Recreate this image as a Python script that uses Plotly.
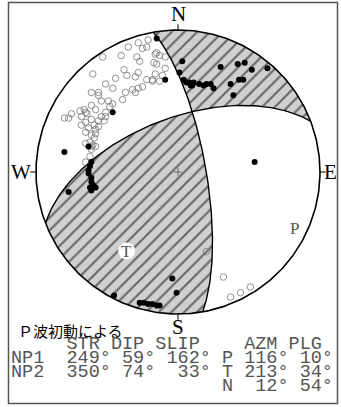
import numpy as np
import plotly.graph_objects as go

# nodal planes (P-wave first motion solution)
plane_names = ["NP1", "NP2"]
strikes = [249, 350]
dips = [59, 74]
slips = [162, 33]

# principal axes
axis_names = ["P", "T", "N"]
axis_azm = [116, 213, 12]
axis_plg = [10, 34, 54]

# first motions, lower hemisphere equal-area coords (east, north; radius 1)
dil_x = [-0.21, -0.28, -0.25, -0.22, -0.35, -0.15, -0.13, -0.16, -0.53, -0.40,
         -0.29, -0.27, -0.15, -0.17, -0.09, -0.60, -0.38, -0.36, -0.28, -0.30,
         -0.44, -0.18, -0.22, -0.16, -0.11, -0.13, -0.18, -0.51, -0.46, -0.56,
         -0.56, -0.61, -0.37, -0.32, -0.28, -0.25, -0.30, -0.39, -0.54, -0.49,
         -0.48, -0.46, -0.61, -0.66, -0.69, -0.58, -0.64, -0.51, -0.80, -0.77,
         -0.75, -0.68, -0.65, -0.54, -0.56, -0.52, -0.61, -0.68, -0.63, -0.65,
         -0.58, -0.56, -0.61, -0.58, -0.59, -0.65, -0.62, -0.60, -0.58, -0.61,
         -0.62, -0.65, -0.09, -0.65, -0.59, -0.51, -0.61,
         0.20, 0.32, 0.37, 0.44, 0.51]
dil_y = [0.93, 0.91, 0.87, 0.88, 0.88, 0.84, 0.82, 0.83, 0.81, 0.82,
         0.81, 0.78, 0.76, 0.77, 0.73, 0.69, 0.72, 0.68, 0.70, 0.67,
         0.66, 0.65, 0.65, 0.69, 0.68, 0.64, 0.64, 0.62, 0.59, 0.56,
         0.54, 0.56, 0.56, 0.58, 0.59, 0.60, 0.56, 0.51, 0.50, 0.50,
         0.46, 0.48, 0.47, 0.44, 0.43, 0.44, 0.41, 0.42, 0.38, 0.38,
         0.41, 0.39, 0.42, 0.39, 0.36, 0.36, 0.37, 0.33, 0.31, 0.28,
         0.30, 0.32, 0.26, 0.27, 0.24, 0.20, 0.21, 0.19, 0.18, 0.16,
         0.11, 0.07, 0.81, 0.35, 0.33, 0.39, 0.18,
         -0.56, -0.74, -0.88, -0.85, -0.81]

comp_x = [-0.15, -0.09, -0.46, -0.63, -0.80, -0.77,
          -0.61, -0.62, -0.63, -0.63, -0.61, -0.61, -0.60, -0.62, -0.58, -0.61,
          0.03, 0.01, 0.04, 0.06, 0.08, 0.10, 0.11, 0.09, 0.15, 0.18, 0.20,
          0.23, 0.25, 0.30, 0.37, 0.39, 0.42, 0.47, 0.43, 0.46, 0.52, 0.63,
          0.54,
          -0.04, -0.01, -0.45, -0.27, -0.24, -0.21, -0.18, -0.15, -0.13]
comp_y = [0.94, 0.65, 0.42, 0.18, 0.14, -0.14,
          0.07, 0.04, 0.01, -0.01, -0.04, -0.07, -0.09, -0.11, -0.11, -0.13,
          0.78, 0.70, 0.65, 0.63, 0.63, 0.61, 0.63, 0.61, 0.62, 0.61, 0.62,
          0.62, 0.59, 0.74, 0.62, 0.54, 0.76, 0.77, 0.65, 0.65, 0.72, 0.73,
          0.07,
          -0.75, -0.85, -0.87, -0.92, -0.92, -0.93, -0.93, -0.94, -0.94]

# page layout (pixels)
W, H = 341, 407
CX, CY, R = 178, 172, 142

SQ2 = np.sqrt(2)


def proj(v):
    v = np.atleast_2d(v)
    trend = np.arctan2(v[:, 0], v[:, 1])
    plunge = np.arcsin(np.clip(v[:, 2], -1, 1))
    r = SQ2 * np.sin((np.pi / 2 - plunge) / 2)
    return r * np.sin(trend), r * np.cos(trend)


def axis_xy(azm, plg):
    a, p = np.radians(azm), np.radians(plg)
    x, y = proj([np.sin(a) * np.cos(p), np.cos(a) * np.cos(p), np.sin(p)])
    return x[0], y[0]


def basis(strike, dip):
    s, d = np.radians(strike), np.radians(dip)
    a = np.array([np.sin(s), np.cos(s), 0.0])
    b = np.array([np.cos(s) * np.cos(d), -np.sin(s) * np.cos(d), np.sin(d)])
    return a, b


def arc(i, t0, t1, n=150):
    a, b = basis(strikes[i], dips[i])
    t = np.linspace(t0, t1, n)
    return proj(np.outer(np.cos(t), a) + np.outer(np.sin(t), b))


def rim(az0, az1, n=150):
    az = np.radians(np.linspace(az0, az1, n))
    return np.sin(az), np.cos(az)


a1, b1 = basis(strikes[0], dips[0])
a2, b2 = basis(strikes[1], dips[1])
null = np.cross(np.cross(a1, b1), np.cross(a2, b2))
if null[2] < 0:
    null = -null
t1 = np.arctan2(null @ b1, null @ a1)
t2 = np.arctan2(null @ b2, null @ a2)

# compressional quadrants
sw = [arc(0, 0, t1), arc(1, t2, np.pi), rim((strikes[1] + 180) % 360, strikes[0])]
ne = [arc(1, 0, t2), arc(0, t1, np.pi), rim(strikes[0] - 180, strikes[1] - 360)]

fig = go.Figure()
pattern = dict(shape="/", bgcolor="#d0d0d0", fgcolor="black", size=9, solidity=0.24)
for parts in (sw, ne):
    fig.add_trace(go.Scatter(
        x=np.concatenate([p[0] for p in parts]),
        y=np.concatenate([p[1] for p in parts]),
        mode="none", fill="toself", fillcolor="#d0d0d0", fillpattern=pattern,
        hoverinfo="skip"))

for i in range(2):
    x, y = arc(i, 0, np.pi)
    fig.add_trace(go.Scatter(x=x, y=y, mode="lines", line=dict(color="black", width=1.4)))
x, y = rim(0, 360, 360)
fig.add_trace(go.Scatter(x=x, y=y, mode="lines", line=dict(color="black", width=1.6)))

fig.add_trace(go.Scatter(
    x=dil_x, y=dil_y, mode="markers",
    marker=dict(symbol="circle-open", size=6.5, color="#777", line=dict(width=0.8))))
fig.add_trace(go.Scatter(
    x=comp_x, y=comp_y, mode="markers",
    marker=dict(symbol="circle", size=6, color="black")))

# centre cross
fig.add_trace(go.Scatter(x=[0], y=[0], mode="markers",
                         marker=dict(symbol="cross-thin", size=6, line=dict(color="#666", width=1))))

# P and T axes
px_, py_ = axis_xy(axis_azm[0], axis_plg[0])
tx_, ty_ = axis_xy(axis_azm[1], axis_plg[1])
fig.add_trace(go.Scatter(x=[tx_], y=[ty_], mode="markers",
                         marker=dict(symbol="circle", size=17, color="white")))
ann = []
for lab, (x, y) in (("T", (tx_, ty_)), ("P", (px_, py_))):
    ann.append(dict(x=x, y=y, text=lab, showarrow=False,
                    font=dict(family="Liberation Serif", size=17, color="#555")))

# compass letters and ticks
for lab, x, y in (("N", 0, 1.11), ("S", 0, -1.095), ("W", -1.105, 0), ("E", 1.075, 0)):
    ann.append(dict(x=x, y=y, text=lab, showarrow=False,
                    font=dict(family="Liberation Serif", size=21, color="black")))
shapes = []
for az in (0, 90, 180, 270):
    s, c = np.sin(np.radians(az)), np.cos(np.radians(az))
    shapes.append(dict(type="line", x0=s, y0=c, x1=1.04 * s, y1=1.04 * c,
                       line=dict(color="black", width=1)))

# frame
shapes.append(dict(type="rect", xref="paper", yref="paper",
                   x0=8.5 / W, x1=337.5 / W, y0=1 - 403.5 / H, y1=1 - 2.5 / H,
                   line=dict(color="#555", width=1.5)))

# solution table
deg = "\u00b0"
rows = ["     STR DIP SLIP    AZM PLG"]
for i in range(2):
    rows.append(f"{plane_names[i]}  {strikes[i]:>3}{deg} {dips[i]:>2}{deg} {slips[i]:>3}{deg} "
                f"{axis_names[i]} {axis_azm[i]:>3}{deg} {axis_plg[i]:>2}{deg}")
rows.append(" " * 19 + f"{axis_names[2]} {axis_azm[2]:>3}{deg} {axis_plg[2]:>2}{deg}")
ann.append(dict(xref="paper", yref="paper", x=16 / W, y=1 - 330 / H,
                xanchor="left", yanchor="middle",
                text="Ｐ波初動による", showarrow=False,
                font=dict(family="Noto Sans CJK JP", size=15, color="black")))
for k, row in enumerate(rows):
    ann.append(dict(xref="paper", yref="paper", x=9 / W, y=1 - (344 + 14.2 * k) / H,
                    xanchor="left", yanchor="middle",
                    text=row.replace(" ", "\u00a0"), showarrow=False,
                    font=dict(family="Liberation Mono", size=18.5, color="#555")))

fig.update_layout(
    width=W, height=H, autosize=False,
    margin=dict(l=0, r=0, t=0, b=0),
    plot_bgcolor="white", paper_bgcolor="white",
    showlegend=False,
    xaxis=dict(range=[-CX / R, (W - CX) / R], visible=False),
    yaxis=dict(range=[(CY - H) / R, CY / R], visible=False),
    annotations=ann, shapes=shapes,
)

fig.write_html("out.html", config=dict(displayModeBar=False),
               post_script="document.body.style.margin='0';document.body.style.overflow='hidden';")
